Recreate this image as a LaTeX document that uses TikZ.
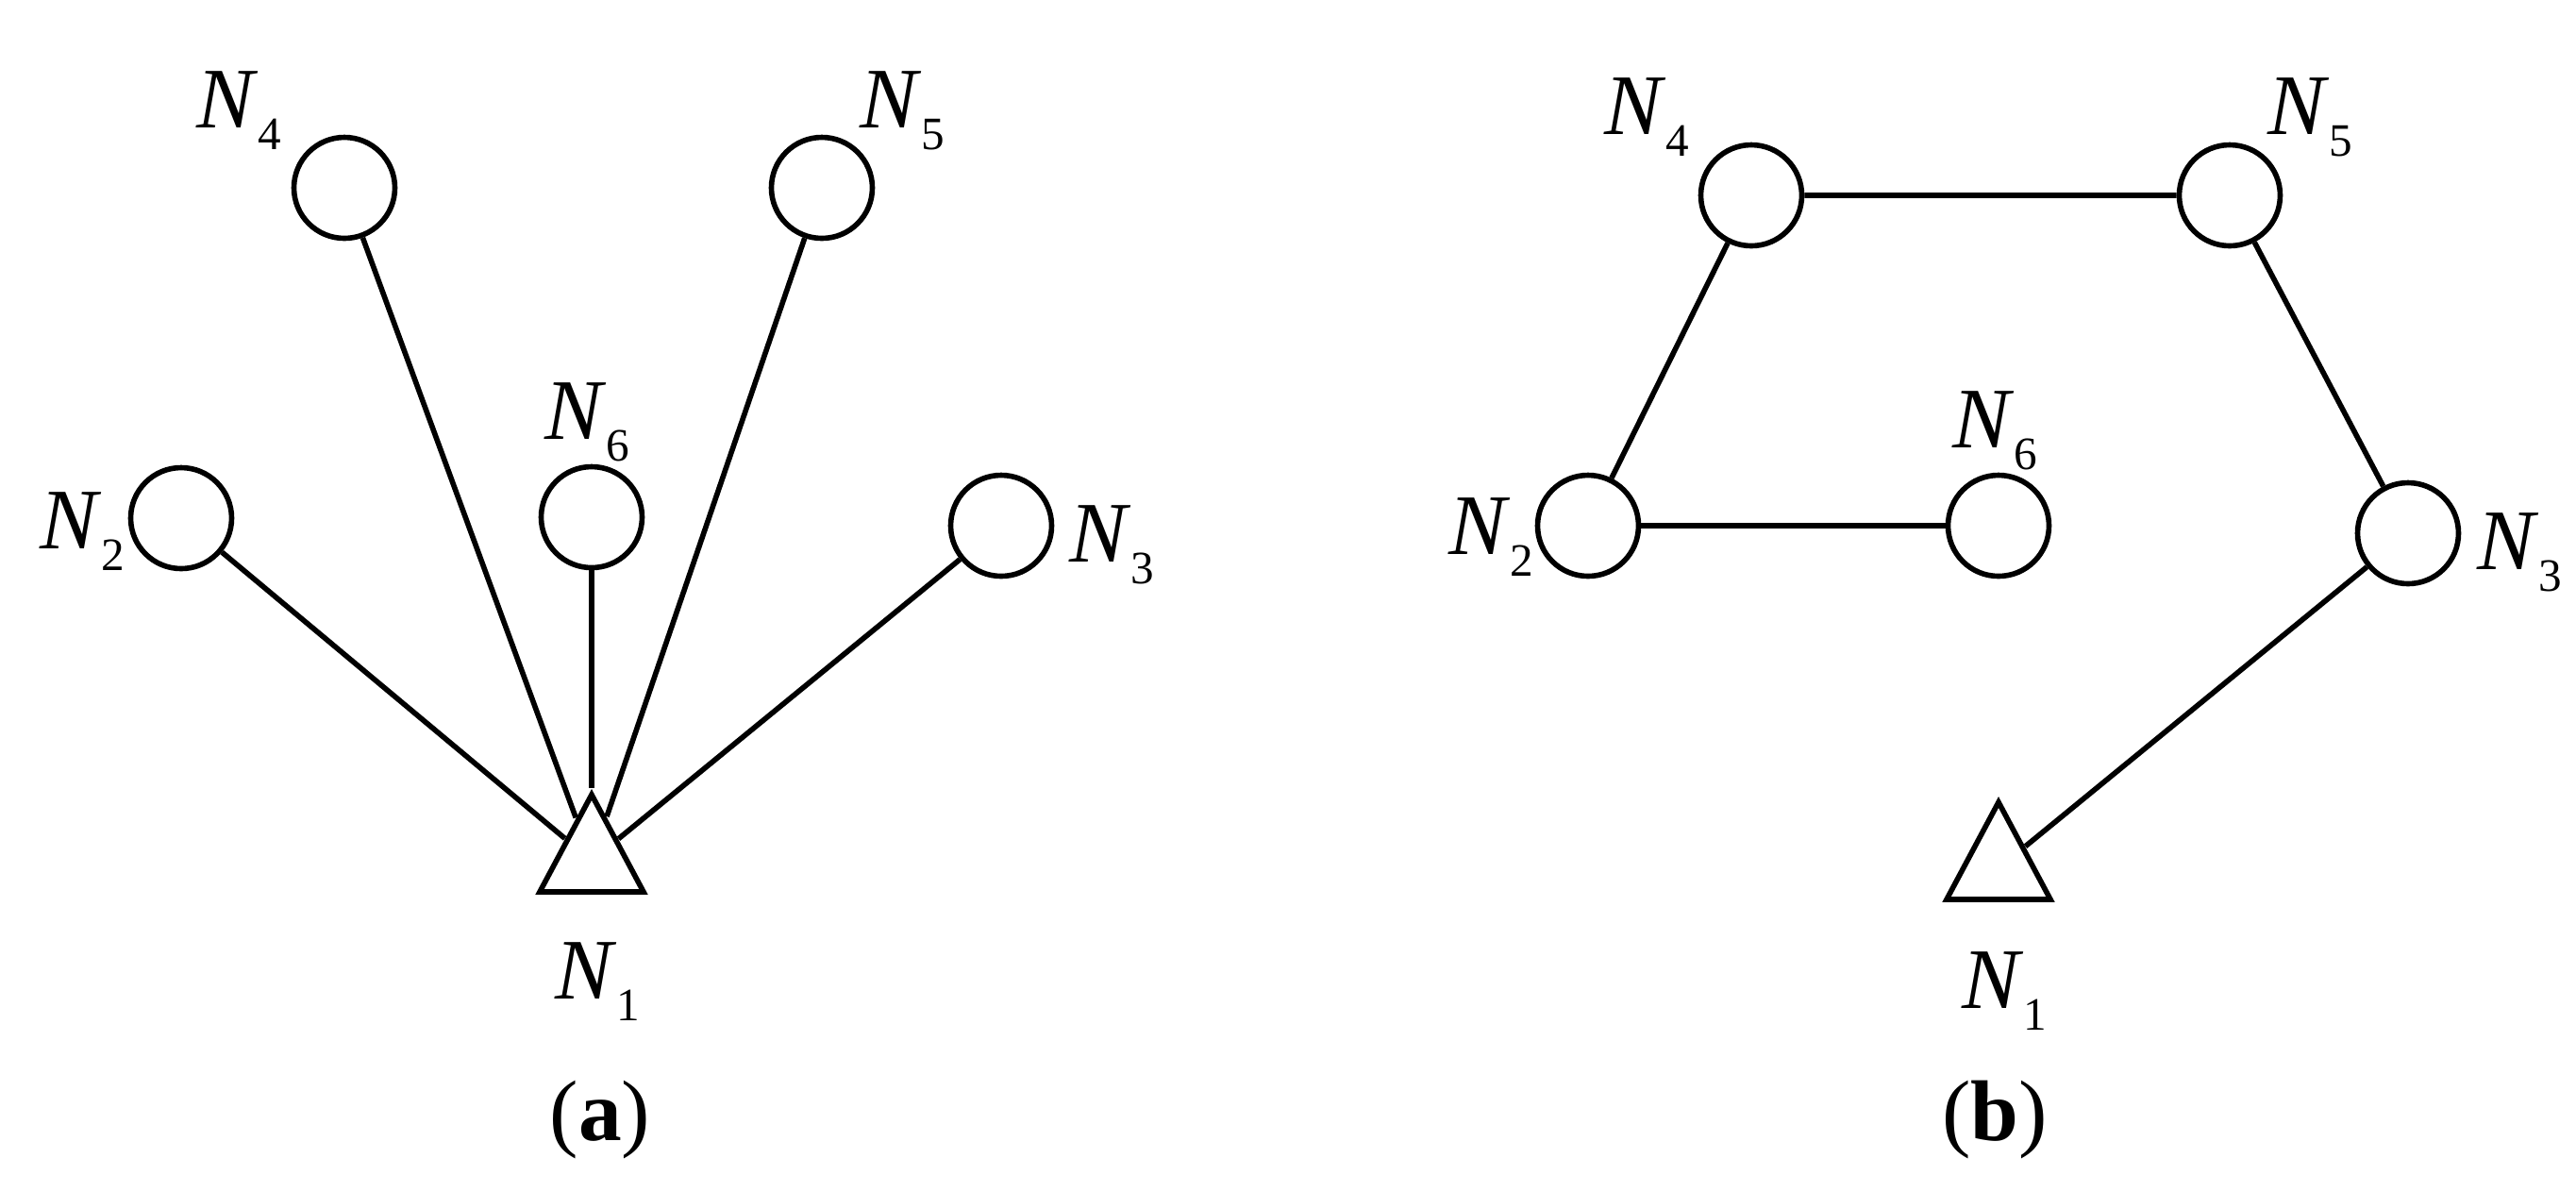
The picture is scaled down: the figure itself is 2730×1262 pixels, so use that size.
\documentclass[tikz,border=0pt]{standalone}
\usepackage{fontspec}
\setmainfont{Liberation Serif}
\usetikzlibrary{shapes.geometric}

\newcommand{\nlab}[1]{\textit{N}\raisebox{-6.8pt}{\fontsize{14}{14}\selectfont #1}}

\tikzset{
  nodecirc/.style={circle, draw, line width=1.6pt, minimum size=10.7mm, inner sep=0pt},
  basetri/.style={isosceles triangle, shape border rotate=90, isosceles triangle stretches,
    draw, line width=1.6pt, minimum width=11mm, minimum height=10.3mm, inner sep=0pt},
  nlabel/.style={font=\fontsize{26}{30}\selectfont, inner sep=0pt, anchor=base west},
  figcap/.style={font=\fontsize{26}{30}\selectfont, inner sep=0pt, anchor=base},
  link/.style={line width=1.6pt}
}

\begin{document}
\begin{tikzpicture}[x=0.1mm, y=-0.1mm]
  \useasboundingbox (0,0) rectangle (2730,1262);

  % (a) star layout
  \node[nodecirc] (a4) at (365,199) {};
  \node[nodecirc] (a5) at (871,199) {};
  \node[nodecirc] (a2) at (192,549) {};
  \node[nodecirc] (a6) at (627,548) {};
  \node[nodecirc] (a3) at (1061,557) {};
  \node[basetri]  (a1) at (627,912) {};

  \foreach \k in {2,4,6,5,3} {
    \draw[link] (a\k) -- (a1);
  }

  \node[nlabel] (la4) at (208,135) {\nlab{4}};
  \node[nlabel] (la5) at (911,135) {\nlab{5}};
  \node[nlabel] (la2) at (42,581) {\nlab{2}};
  \node[nlabel] (la6) at (577,465) {\nlab{6}};
  \node[nlabel] (la3) at (1133,595) {\nlab{3}};
  \node[nlabel] (la1) at (588,1058) {\nlab{1}};
  \node[figcap] (capa) at (636,1208) {(\textbf{a})};

  % (b) chain layout
  \node[nodecirc] (b4) at (1856,207) {};
  \node[nodecirc] (b5) at (2363,207) {};
  \node[nodecirc] (b2) at (1683,557) {};
  \node[nodecirc] (b6) at (2118,557) {};
  \node[nodecirc] (b3) at (2552,565) {};
  \node[basetri]  (b1) at (2118,920) {};

  \draw[link] (b2) -- (b6);
  \draw[link] (b2) -- (b4) -- (b5) -- (b3) -- (b1);

  \node[nlabel] (lb4) at (1700,142) {\nlab{4}};
  \node[nlabel] (lb5) at (2403,142) {\nlab{5}};
  \node[nlabel] (lb2) at (1535,587) {\nlab{2}};
  \node[nlabel] (lb6) at (2069,474) {\nlab{6}};
  \node[nlabel] (lb3) at (2625,603) {\nlab{3}};
  \node[nlabel] (lb1) at (2079,1068) {\nlab{1}};
  \node[figcap] (capb) at (2114,1208) {(\textbf{b})};
\end{tikzpicture}
\end{document}
